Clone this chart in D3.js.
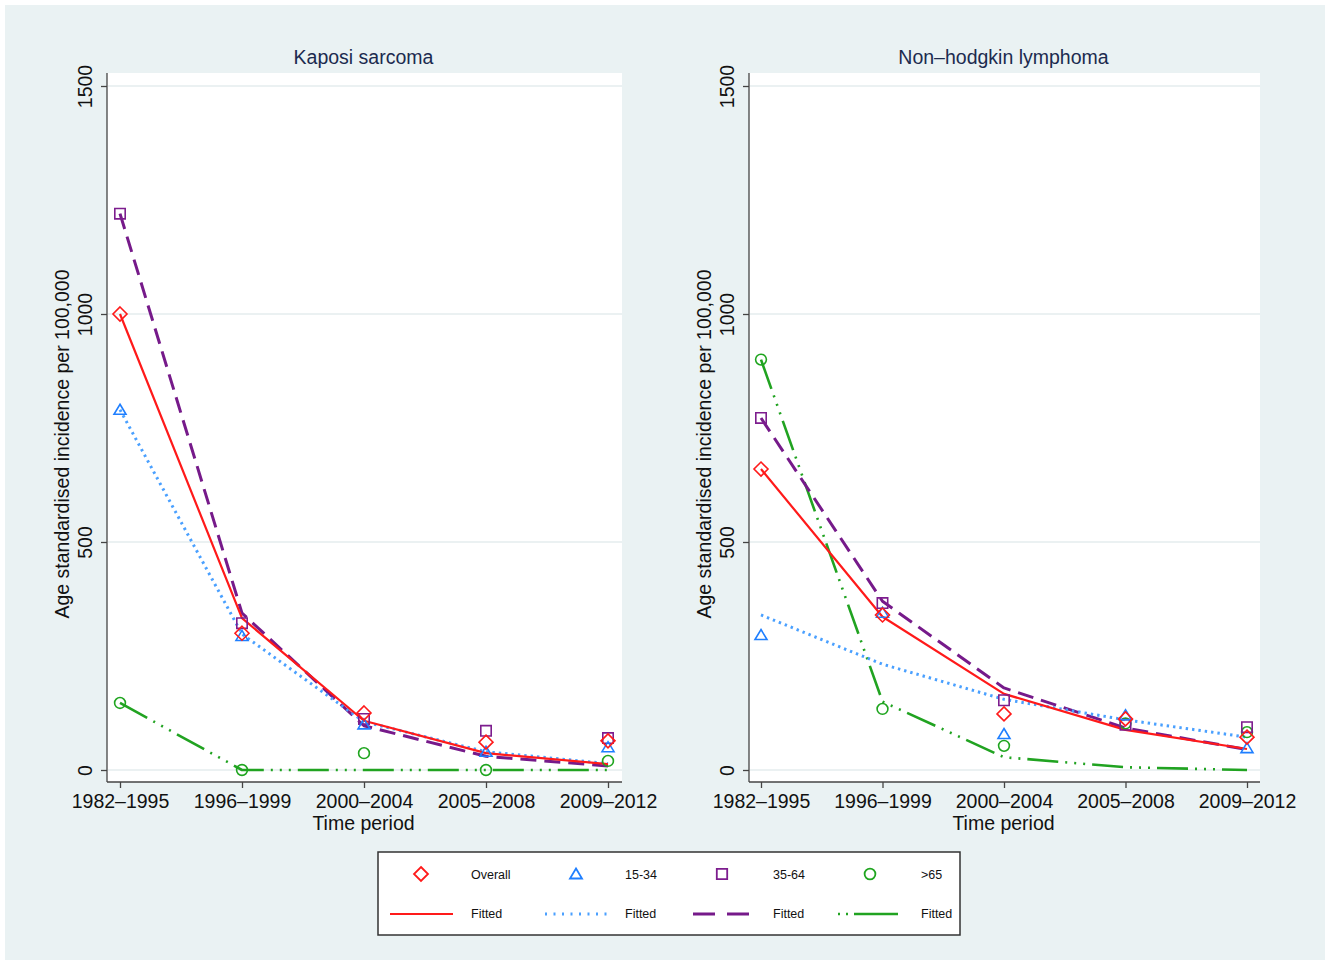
<!DOCTYPE html>
<html>
<head>
<meta charset="utf-8">
<script src="https://cdn.jsdelivr.net/npm/d3@7/dist/d3.min.js"></script>
<style>
  html, body { margin: 0; padding: 0; background: #ffffff; }
  svg { display: block; }
  text { font-family: "Liberation Sans", Arial, Helvetica, sans-serif; }
</style>
</head>
<body>
<svg id="chart" width="1332" height="964"></svg>
<script>
// ---------------- DATA ----------------
const categories = ["1982–1995", "1996–1999", "2000–2004", "2005–2008", "2009–2012"];
const yTickValues = [0, 500, 1000, 1500];
const panelTitles = ["Kaposi sarcoma", "Non–hodgkin lymphoma"];
const seriesNames = ["Overall", "15-34", "35-64", ">65"];

// Kaposi sarcoma
const kaposiOverall     = [1000, 300, 125, 61, 64];
const kaposiOverallFit  = [1000, 333, 108, 37, 13];
const kaposi1534        = [790, 294, 100, 40, 50];
const kaposi1534Fit     = [790, 298, 106, 40, 14];
const kaposi3564        = [1220, 322, 112, 86, 70];
const kaposi3564Fit     = [1220, 344, 97, 30, 9];
const kaposi65          = [147, 0, 37, 0, 20];
const kaposi65Fit       = [147, 0, 0, 0, 0];

// Non-hodgkin lymphoma
const nhlOverall        = [660, 340, 123, 112, 72];
const nhlOverallFit     = [660, 336, 167, 88, 46];
const nhl1534           = [296, 345, 79, 120, 48];
const nhl1534Fit        = [340, 232, 155, 110, 72];
const nhl3564           = [772, 366, 153, 99, 94];
const nhl3564Fit        = [772, 370, 180, 92, 45];
const nhl65             = [900, 134, 53, 102, 83];
const nhl65Fit          = [900, 150, 28, 6, 0];

// ---------------- STYLES ----------------
const styles = [
  { color: "#ff1a1a", lineColor: "#ff1a1a", marker: "diamond", dash: null, width: 2.2 },
  { color: "#1f7fff", lineColor: "#4aa0ff", marker: "triangle", dash: "2.4,4", width: 3 },
  { color: "#7d1d8e", lineColor: "#761a8a", marker: "square", dash: "16,8", width: 3 },
  { color: "#1fa51f", lineColor: "#21a321", marker: "circle", dash: "31,7,2,7,2,7,2,7", width: 2.6 }
];

const panels = [
  { title: panelTitles[0], left: 107, right: 622, xFirst: 120, xLast: 608,
    obs: [kaposiOverall, kaposi1534, kaposi3564, kaposi65],
    fit: [kaposiOverallFit, kaposi1534Fit, kaposi3564Fit, kaposi65Fit] },
  { title: panelTitles[1], left: 749, right: 1260, xFirst: 761, xLast: 1247,
    obs: [nhlOverall, nhl1534, nhl3564, nhl65],
    fit: [nhlOverallFit, nhl1534Fit, nhl3564Fit, nhl65Fit] }
];

const plotTop = 73, plotBottom = 782;
const svg = d3.select("#chart");

// outer background
svg.append("rect").attr("x", 5).attr("y", 5).attr("width", 1320).attr("height", 955)
  .attr("fill", "#eaf2f3");

function markerPath(type) {
  if (type === "diamond") return "M0,-7 L7,0 L0,7 L-7,0 Z";
  if (type === "triangle") return "M0,-5.5 L6,4.5 L-6,4.5 Z";
  if (type === "square") return "M-5.2,-5.2 L5.2,-5.2 L5.2,5.2 L-5.2,5.2 Z";
  return d3.arc()({ innerRadius: 0, outerRadius: 5.4, startAngle: 0, endAngle: 2 * Math.PI });
}

const y = d3.scaleLinear().domain([0, 1500]).range([770, 86]);

panels.forEach(p => {
  const g = svg.append("g");
  const x = d3.scalePoint().domain(categories).range([p.xFirst, p.xLast]);

  g.append("rect").attr("x", p.left).attr("y", plotTop)
    .attr("width", p.right - p.left).attr("height", plotBottom - plotTop)
    .attr("fill", "#ffffff");

  // gridlines
  g.selectAll(".grid").data(yTickValues).join("line")
    .attr("x1", p.left + 1).attr("x2", p.right)
    .attr("y1", d => y(d)).attr("y2", d => y(d))
    .attr("stroke", "#e4ecee").attr("stroke-width", 1.6);

  // y axis
  const yAxis = d3.axisLeft(y).tickValues(yTickValues).tickSize(6).tickSizeOuter(0).tickFormat(d3.format("d"));
  const ya = g.append("g").attr("transform", `translate(${p.left},0)`).call(yAxis);
  ya.select(".domain").remove();
  ya.append("line").attr("x1", 0).attr("x2", 0).attr("y1", plotTop).attr("y2", plotBottom)
    .attr("stroke", "#444").attr("stroke-width", 1.3);
  ya.selectAll(".tick line").attr("stroke", "#444").attr("stroke-width", 1.3);
  ya.selectAll(".tick text")
    .attr("font-size", 19.5).attr("fill", "#111")
    .attr("x", 0).attr("dy", null)
    .attr("text-anchor", "middle")
    .attr("transform", "translate(-22,0) rotate(-90)")
    .attr("dominant-baseline", "central");

  // x axis
  const xAxis = d3.axisBottom(x).tickSize(6).tickSizeOuter(0);
  const xa = g.append("g").attr("transform", `translate(0,${plotBottom})`).call(xAxis);
  xa.select(".domain").remove();
  xa.append("line").attr("x1", p.left).attr("x2", p.right).attr("y1", 0).attr("y2", 0)
    .attr("stroke", "#444").attr("stroke-width", 1.3);
  xa.selectAll(".tick line").attr("stroke", "#444").attr("stroke-width", 1.3);
  xa.selectAll(".tick text").attr("font-size", 19.5).attr("fill", "#111")
    .attr("y", 12).attr("dy", "0.71em");

  const cx = (p.left + p.right) / 2 - 1;
  // titles
  g.append("text").attr("x", cx).attr("y", 64).attr("text-anchor", "middle")
    .attr("font-size", 19.5).attr("fill", "#1c2b4f").text(p.title);
  g.append("text").attr("x", cx).attr("y", 830).attr("text-anchor", "middle")
    .attr("font-size", 19.5).attr("fill", "#111").text("Time period");
  g.append("text")
    .attr("transform", `translate(${p.left - 45},${(y(0) + y(1500)) / 2 + 16}) rotate(-90)`)
    .attr("text-anchor", "middle").attr("dominant-baseline", "central")
    .attr("font-size", 19.5).attr("fill", "#111")
    .text("Age standardised incidence per 100,000");

  // fitted lines
  const line = d3.line().x((d, i) => x(categories[i])).y(d => y(d));
  const order = [3, 2, 1, 0];
  order.forEach(s => {
    const st = styles[s];
    g.append("path").datum(p.fit[s]).attr("d", line)
      .attr("fill", "none").attr("stroke", st.lineColor)
      .attr("stroke-width", st.width)
      .attr("stroke-dasharray", st.dash)
      .attr("stroke-linejoin", "round");
  });

  // markers
  order.forEach(s => {
    const st = styles[s];
    g.selectAll(null).data(p.obs[s]).join("path")
      .attr("d", markerPath(st.marker))
      .attr("transform", (d, i) => `translate(${x(categories[i])},${y(d)})`)
      .attr("fill", "none").attr("stroke", st.color).attr("stroke-width", 1.6);
  });
});

// legend
const lg = svg.append("g");
lg.append("rect").attr("x", 378).attr("y", 852).attr("width", 582).attr("height", 83)
  .attr("fill", "#ffffff").attr("stroke", "#333").attr("stroke-width", 1.5);
const markerX = [421, 576, 722, 870];
const textX = [471, 625, 773, 921];
const lineX = [[390, 453], [545, 612], [693, 749], [838, 900]];
const legendDash = [null, "2,6.5", "22,12", "2,6,2,6,44"];
seriesNames.forEach((name, s) => {
  const st = styles[s];
  lg.append("path").attr("d", markerPath(st.marker))
    .attr("transform", `translate(${markerX[s]},874)`)
    .attr("fill", "none").attr("stroke", st.color).attr("stroke-width", 1.8);
  lg.append("text").attr("x", textX[s]).attr("y", 879).attr("font-size", 12.5)
    .attr("fill", "#111").text(name);
  lg.append("line").attr("x1", lineX[s][0]).attr("x2", lineX[s][1])
    .attr("y1", 914).attr("y2", 914)
    .attr("stroke", st.lineColor).attr("stroke-width", st.width)
    .attr("stroke-dasharray", legendDash[s]);
  lg.append("text").attr("x", textX[s]).attr("y", 918).attr("font-size", 12.5)
    .attr("fill", "#111").text("Fitted");
});
</script>
</body>
</html>
